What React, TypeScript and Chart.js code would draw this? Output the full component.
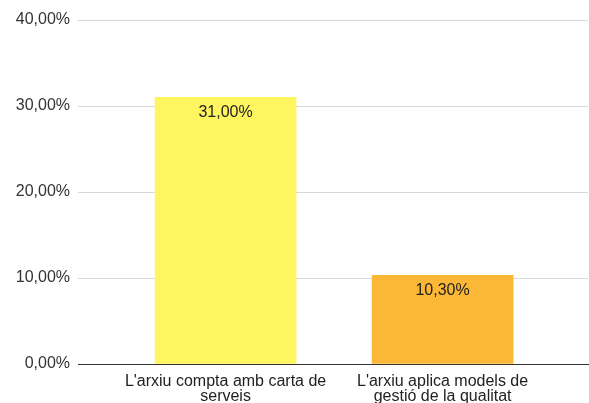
import React, { useEffect, useRef } from "react";
import { Chart, registerables } from "chart.js";

Chart.register(...registerables);

const categories: string[][] = [
  ["L'arxiu compta amb carta de", "serveis"],
  ["L'arxiu aplica models de", "gestió de la qualitat"],
];
const values: number[] = [31.0, 10.3];
const barColors: string[] = ["#fff55f", "#fbb836"];
const yTicks: number[] = [0, 10, 20, 30, 40];

const fmt = (v: number) => v.toFixed(2).replace(".", ",") + "%";

const FONT = "'Liberation Sans', Arial, sans-serif";

const dataLabelPlugin = {
  id: "dataLabels",
  afterDatasetsDraw(chart: any) {
    const ctx = chart.ctx;
    const meta = chart.getDatasetMeta(0);
    ctx.save();
    ctx.font = `16px ${FONT}`;
    ctx.fillStyle = "#222222";
    ctx.textAlign = "center";
    ctx.textBaseline = "middle";
    meta.data.forEach((bar: any, i: number) => {
      ctx.fillText(fmt(values[i]), bar.x, bar.y + 15);
    });
    ctx.restore();
  },
};

export default function App() {
  const ref = useRef<HTMLCanvasElement | null>(null);
  useEffect(() => {
    if (!ref.current) return;
    const chart = new Chart(ref.current, {
      type: "bar",
      data: {
        datasets: [
          {
            data: values.map((v, i) => ({ x: i, y: v })),
            backgroundColor: barColors,
            borderWidth: 0,
            barThickness: 141,
          },
        ],
      },
      options: {
        animation: false,
        responsive: false,
        layout: { padding: { top: 20, right: 1, left: 0, bottom: 0 } },
        plugins: { legend: { display: false }, tooltip: { enabled: false } },
        scales: {
          x: {
            type: "linear",
            offset: false,
            min: -0.68,
            max: 1.67,
            afterBuildTicks: (scale: any) => {
              scale.ticks = categories.map((_, i) => ({ value: i }));
            },
            afterFit: (scale: any) => {
              scale.height = 39;
            },
            grid: { display: false, drawTicks: false, offset: false },
            border: { display: true, color: "#333333", width: 1 },
            ticks: {
              autoSkip: false,
              maxRotation: 0,
              padding: 10,
              color: "#222222",
              font: { family: FONT, size: 16, lineHeight: 0.95 },
              callback: (v: any) => categories[Number(v)] ?? "",
            },
          },
          y: {
            min: 0,
            max: 40,
            afterBuildTicks: (scale: any) => {
              scale.ticks = yTicks.map((v) => ({ value: v }));
            },
            afterFit: (scale: any) => {
              scale.width = 78;
            },
            grid: {
              color: (c: any) => (c.tick && c.tick.value === 0 ? "rgba(0,0,0,0)" : "#d9d9d9"),
              drawTicks: false,
            },
            border: { display: false },
            ticks: {
              padding: 8,
              color: "#333333",
              font: { family: FONT, size: 16 },
              callback: (v: any) => fmt(Number(v)),
            },
          },
        },
      },
      plugins: [dataLabelPlugin],
    });
    return () => chart.destroy();
  }, []);
  return (
    <div style={{ position: "absolute", left: 0, top: 0, width: 589, height: 403, background: "#fff" }}>
      <canvas ref={ref} width={589} height={403} style={{ width: 589, height: 403 }} />
    </div>
  );
}
